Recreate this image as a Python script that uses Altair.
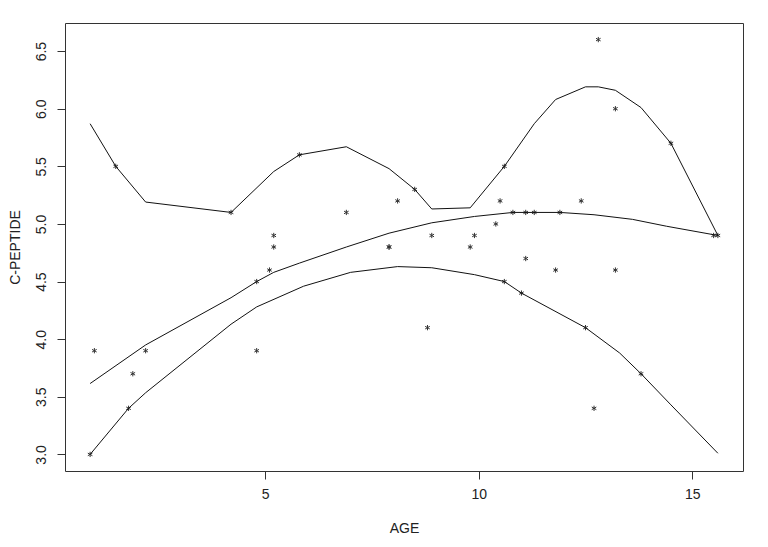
import altair as alt
import pandas as pd

# Observed data (AGE, C-PEPTIDE)
age = [0.9, 1.0, 1.5, 1.8, 1.9, 2.2, 4.2, 4.8, 4.8, 5.1, 5.2, 5.2, 5.8, 6.9, 7.9, 7.9,
       8.1, 8.5, 8.8, 8.9, 9.8, 9.9, 10.4, 10.5, 10.6, 10.6, 10.8, 11.0, 11.1, 11.1,
       11.3, 11.8, 11.9, 12.4, 12.5, 12.7, 12.8, 13.2, 13.2, 13.8, 14.5, 15.5, 15.6]
cpep = [3.0, 3.9, 5.5, 3.4, 3.7, 3.9, 5.1, 4.5, 3.9, 4.6, 4.9, 4.8, 5.6, 5.1, 4.8, 4.8,
        5.2, 5.3, 4.1, 4.9, 4.8, 4.9, 5.0, 5.2, 5.5, 4.5, 5.1, 4.4, 5.1, 4.7,
        5.1, 4.6, 5.1, 5.2, 4.1, 3.4, 6.6, 6.0, 4.6, 3.7, 5.7, 4.9, 4.9]

# Upper curve
up_age = [0.9, 1.5, 2.2, 4.2, 5.2, 5.8, 6.9, 7.9, 8.5, 8.9, 9.8, 10.6, 11.3, 11.8,
          12.5, 12.8, 13.2, 13.8, 14.5, 15.6]
up_val = [5.87, 5.5, 5.19, 5.10, 5.455, 5.6, 5.67, 5.48, 5.30, 5.13, 5.14, 5.5, 5.87,
          6.08, 6.19, 6.19, 6.16, 6.01, 5.70, 4.9]

# Middle curve
mid_age = [0.9, 2.2, 4.2, 4.8, 5.2, 5.8, 6.9, 7.9, 8.9, 9.9, 10.8, 11.9, 12.7, 13.6,
           14.4, 15.6]
mid_val = [3.615, 3.95, 4.36, 4.5, 4.58, 4.66, 4.80, 4.92, 5.01, 5.065, 5.10, 5.10,
           5.08, 5.04, 4.98, 4.9]

# Lower curve
low_age = [0.9, 1.8, 2.2, 4.2, 4.8, 5.9, 7.0, 8.1, 8.9, 9.9, 10.6, 11.0, 12.5, 13.3,
           13.8, 14.5, 15.6]
low_val = [3.0, 3.4, 3.535, 4.13, 4.28, 4.46, 4.58, 4.63, 4.62, 4.56, 4.5, 4.4, 4.1,
           3.88, 3.7, 3.43, 3.01]

x_ticks = [5, 10, 15]
y_ticks = [3.0, 3.5, 4.0, 4.5, 5.0, 5.5, 6.0, 6.5]

pts = pd.DataFrame({"age": age, "cp": cpep})
curves = pd.concat([
    pd.DataFrame({"age": up_age, "cp": up_val, "curve": "upper"}),
    pd.DataFrame({"age": mid_age, "cp": mid_val, "curve": "middle"}),
    pd.DataFrame({"age": low_age, "cp": low_val, "curve": "lower"}),
], ignore_index=True)

FONT = "Liberation Sans"

xs = alt.Scale(domain=[0.312, 16.188], nice=False, zero=False)
ys = alt.Scale(domain=[2.856, 6.744], nice=False, zero=False)

xax = alt.Axis(values=x_ticks, format="d", title="AGE", domain=False, grid=False,
               tickSize=8, tickColor="#333", labelPadding=8, labelFontSize=14,
               labelColor="#222", labelFont=FONT, titleFont=FONT, titleFontSize=14,
               titleFontWeight="normal", titleColor="#222", titleX=339, titleY=57,
               titleAlign="center", titleBaseline="middle")
yax = alt.Axis(values=y_ticks, format=".1f", title="C-PEPTIDE", domain=False, grid=False,
               tickSize=8, tickColor="#333", labelPadding=16, labelAngle=270,
               labelAlign="center", labelBaseline="middle", labelFontSize=14,
               labelColor="#222", labelFont=FONT, titleFont=FONT, titleFontSize=14,
               titleFontWeight="normal", titleColor="#222", titleAngle=270,
               titleX=-50, titleY=224, titleAlign="center", titleBaseline="middle")

star = "M0,-1L0,1M-0.87,-0.5L0.87,0.5M-0.87,0.5L0.87,-0.5"

points = alt.Chart(pts).mark_point(shape=star, filled=False, stroke="#333",
                                   strokeWidth=1, size=28, opacity=1).encode(
    x=alt.X("age:Q", scale=xs, axis=xax),
    y=alt.Y("cp:Q", scale=ys, axis=yax),
)

lines = alt.Chart(curves).mark_line(color="#111", strokeWidth=1).encode(
    x=alt.X("age:Q", scale=xs),
    y=alt.Y("cp:Q", scale=ys),
    detail="curve:N",
    order="age:Q",
)

chart = alt.layer(points, lines).properties(
    width=678, height=448,
    padding={"left": 57, "top": 15, "right": 17, "bottom": 68},
    autosize=alt.AutoSizeParams(type="none"),
    background="white",
).configure_view(stroke="#333", strokeWidth=1)

chart.save("out.html", embed_options={"renderer": "svg", "actions": False})
